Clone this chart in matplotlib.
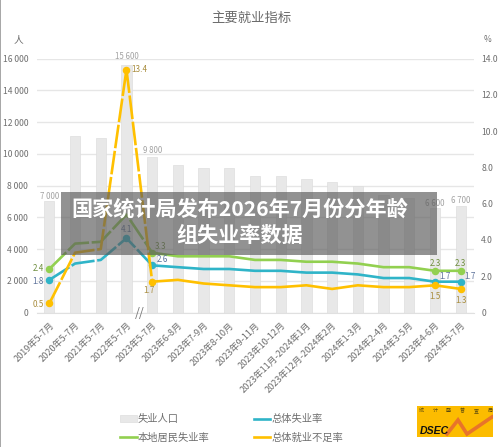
import matplotlib
matplotlib.use('Agg')
import matplotlib.pyplot as plt
import numpy as np
from matplotlib.patches import Rectangle

plt.rcParams['font.family'] = ['Noto Sans CJK SC', 'DejaVu Sans']

# Dados
categorias = ['2019年5-7月', '2020年5-7月', '2021年5-7月', '2022年5-7月', '2023年5-7月',
              '2023年6-8月', '2023年7-9月', '2023年8-10月', '2023年9-11月', '2023年10-12月',
              '2023年11月-2024年1月', '2023年12月-2024年2月', '2024年1-3月', '2024年2-4月',
              '2024年3-5月', '2023年4-6月', '2024年5-7月']
desempregados = [7000, 11100, 11000, 15600, 9800, 9300, 9100, 9100, 8600, 8600,
                 8400, 8200, 8000, 7400, 7200, 6600, 6700]
residentes = [2.4, 3.8, 3.9, 5.4, 3.3, 3.1, 3.1, 3.1, 2.9, 2.9, 2.8, 2.8, 2.7, 2.5, 2.5, 2.3, 2.3]
total = [1.8, 2.7, 2.9, 4.1, 2.6, 2.5, 2.4, 2.4, 2.3, 2.3, 2.2, 2.2, 2.1, 1.9, 1.9, 1.7, 1.7]
subemprego = [0.5, 3.3, 3.5, 13.4, 1.7, 1.8, 1.6, 1.5, 1.4, 1.4, 1.5, 1.3, 1.5, 1.4, 1.4, 1.5, 1.3]
ticks_esq = [0, 2000, 4000, 6000, 8000, 10000, 12000, 14000, 16000]
ticks_dir = [0, 2, 4, 6, 8, 10, 12, 14]

VERDE = '#92d050'
AZUL = '#2fb4c8'
AMARELO = '#ffc000'
TEXTO = '#6e6e6e'

W, H = 500, 447
fig = plt.figure(figsize=(W / 100, H / 100), dpi=100)
ax = fig.add_axes([36.5 / W, 1 - 312.5 / H, 437 / W, 253.8 / H])
ax2 = ax.twinx()
x = np.arange(len(categorias))

# Barras e grelha
ax.set_axisbelow(True)
ax.grid(axis='y', color='#e6e6e6', lw=1)
barras = ax.bar(x, desempregados, width=0.4, color='#e8e8e8', edgecolor='#dedede', lw=0.5)
ax.set_xlim(-0.5, 16.5)
ax.set_ylim(0, 16000)
ax2.set_ylim(0, 14)
ax.set_yticks(ticks_esq)
ax.set_yticklabels([f'{v:,}'.replace(',', ' ') for v in ticks_esq], fontsize=6.2, color=TEXTO)
ax2.set_yticks(ticks_dir)
ax2.set_yticklabels(['0' if v == 0 else f'{v:.1f}' for v in ticks_dir], fontsize=6.2, color=TEXTO)
ax.set_xticks(x)
ax.set_xticklabels(categorias, rotation=45, ha='right', rotation_mode='anchor', fontsize=6.6, color=TEXTO)
ax.tick_params(axis='y', length=0, pad=6)
ax.tick_params(axis='x', length=0, pad=6)
ax2.tick_params(axis='y', length=0, pad=5.5)
for a in (ax, ax2):
    for s in a.spines.values():
        s.set_visible(False)
ax.spines['bottom'].set_visible(True)
ax.spines['bottom'].set_color('#e0e0e0')

# Linhas: tracejado até 2023年5-7月, contínuo depois
def desenha(valores, cor, marcas):
    ax2.plot(x[:5], valores[:5], color=cor, lw=1.9, dashes=(9, 1))
    linha, = ax2.plot(x[4:], valores[4:], color=cor, lw=1.9)
    ax2.plot(x[marcas], np.array(valores)[marcas], 'o', color=cor, ms=4.4, ls='none')
    return linha

l_res = desenha(residentes, VERDE, [0, 4, 15, 16])
l_tot = desenha(total, AZUL, [0, 3, 4, 15, 16])
l_sub = desenha(subemprego, AMARELO, [0, 3, 4, 15, 16])

# Etiquetas das barras (índice, distância em pontos)
for i, dy in [(0, 3.6), (3, 6.5), (4, 5), (15, 3), (16, 4.3)]:
    ax.annotate(f'{desempregados[i]:,}'.replace(',', ' '), (x[i], desempregados[i]), xytext=(0, dy),
                textcoords='offset points', ha='center', va='center', fontsize=5.7, color='#a2a2a2')

# Etiquetas das linhas (índice, deslocamento em pontos)
def etiquetas(valores, cor, pontos):
    for i, dx, dy in pontos:
        ax2.annotate(f'{valores[i]:.1f}', (x[i], valores[i]), xytext=(dx, dy), textcoords='offset points',
                     ha='center', va='center', fontsize=5.8, color=cor)

etiquetas(residentes, '#6f8f3f', [(0, -8, 0), (4, 6, 4.5), (15, 0, 5.5), (16, 0, 5.5)])
etiquetas(total, '#5b7099', [(0, -8, -1), (3, 0, 6), (4, 7.5, 4), (15, 7, 3.5), (16, 7, 3.5)])
etiquetas(subemprego, '#a88c3c', [(0, -8, -1), (3, 9, 0), (4, -2, -6), (15, 0, -8), (16, 0, -8)])

# Quebra do eixo
ax.annotate('//', (3.5, 0), xytext=(0, -1), textcoords='offset points', ha='center', va='center',
            fontsize=9, style='italic', color='#777777', annotation_clip=False)

# Títulos e unidades
fig.text(251 / W, 1 - 18 / H, '主要就业指标', ha='center', va='center', fontsize=9.6, color='#6a6a6a')
fig.text(18 / W, 1 - 39 / H, '人', ha='center', va='center', fontsize=7, color=TEXTO)
fig.text(487 / W, 1 - 40 / H, '%', ha='center', va='center', fontsize=6, color=TEXTO)

# Legenda
ax2.legend([barras, l_res, l_tot, l_sub], ['失业人口', '本地居民失业率', '总体失业率', '总体就业不足率'],
           ncol=2, frameon=False, fontsize=7.4, handlelength=1.6, handletextpad=0.1, columnspacing=4.3,
           labelspacing=0.8, labelcolor=TEXTO, loc='lower left',
           bbox_to_anchor=(111 / W, 1 - 452 / H), bbox_transform=fig.transFigure)

# Faixa cinzenta à esquerda
fig.add_artist(Rectangle((0, 0), 1.2 / W, 1, transform=fig.transFigure, color='#a8a8a8', lw=0))

# Banner por cima de tudo
ban = fig.add_axes([0, 0, 1, 1], facecolor='none', zorder=6)
ban.set_axis_off()
ban.add_patch(Rectangle((61 / W, 1 - 255 / H), 376 / W, 63 / H, color='#5a5a5a', alpha=0.66, lw=0))
ban.text(240 / W, 1 - 209 / H, '国家统计局发布2026年7月份分年龄', ha='center', va='center',
         fontsize=15.2, fontweight='black', color='white')
ban.text(240 / W, 1 - 235 / H, '组失业率数据', ha='center', va='center',
         fontsize=15.2, fontweight='black', color='white')

# Logótipo DSEC
logo = fig.add_axes([417 / W, 1 - 437 / H, 76 / W, 31 / H], facecolor='#fcbc00', zorder=7)
logo.set_xlim(0, 76)
logo.set_ylim(31, 0)
logo.set_xticks([])
logo.set_yticks([])
for s in logo.spines.values():
    s.set_visible(False)
logo.plot([30, 41, 50, 75], [28, 14, 28, 11], color='#e8742a', lw=2.6, solid_joinstyle='miter')
logo.text(3, 25, 'DSEC', fontsize=7.6, fontweight='bold', style='italic', color='#111111', va='center',
          family='Liberation Sans')
for i, c in enumerate('统计暨普查局'):
    logo.text(4 + i * 13.8, 4.5, c, fontsize=3.6, color='#5a4a10', ha='center', va='center')

fig.savefig('out.png', dpi=100)
